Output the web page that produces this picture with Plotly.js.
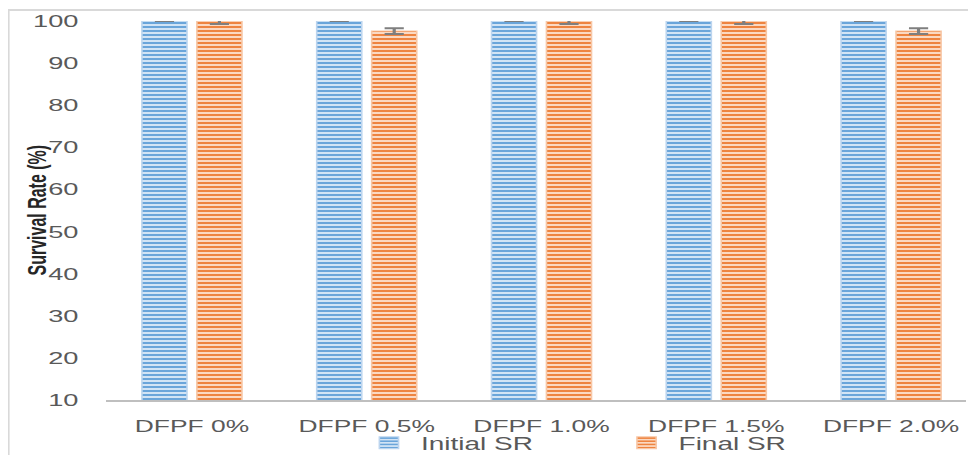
<!DOCTYPE html>
<html>
<head>
<meta charset="utf-8">
<script src="https://cdn.plot.ly/plotly-3.0.1.min.js"></script>
<style>
  html, body { margin:0; padding:0; background:#ffffff; overflow:hidden; }
  #wrap { position:absolute; left:0; top:0; width:605px; height:455px; transform:scaleX(1.6); transform-origin:0 0; }
  #chart { position:absolute; left:0; top:0; width:605px; height:455px; }
  #frame { position:absolute; left:5px; top:9px; width:640px; height:480px; border-top:2px solid #d9d9d9; border-left:1.6px solid #d9d9d9; pointer-events:none; }
</style>
</head>
<body>
<div id="wrap">
  <div id="chart"></div>
  <div id="frame"></div>
</div>
<script>
const categories = ['DFPF 0%', 'DFPF 0.5%', 'DFPF 1.0%', 'DFPF 1.5%', 'DFPF 2.0%'];
const initialSR = [100, 100, 100, 100, 100];
const initialErr = [0, 0, 0, 0, 0];
const finalSR = [100, 97.6, 100, 100, 97.6];
const finalErr = [0.7, 0.7, 0.7, 0.7, 0.7];
const yTicks = [10, 20, 30, 40, 50, 60, 70, 80, 90, 100];

const yTickFont = { family: 'Liberation Sans, Arial, sans-serif', size: 17, color: '#595959' };
const xTickFont = { family: 'Liberation Sans, Arial, sans-serif', size: 16.5, color: '#595959' };

const traces = [
  {
    type: 'bar', name: 'Initial SR', x: categories, y: initialSR,
    error_y: { type: 'data', array: initialErr, visible: true, color: '#7f7f7f', thickness: 2, width: 6 },
    marker: {
      color: '#c5dcf1',
      line: { color: '#bcd5ef', width: 1 },
      pattern: { shape: '-', fgcolor: '#6aa5da', bgcolor: '#d2e4f5', size: 4, solidity: 0.5 }
    }
  },
  {
    type: 'bar', name: 'Final SR', x: categories, y: finalSR,
    error_y: { type: 'data', array: finalErr, visible: true, color: '#7f7f7f', thickness: 2, width: 6 },
    marker: {
      color: '#f9cdb0',
      line: { color: '#f7c7a6', width: 1 },
      pattern: { shape: '-', fgcolor: '#ee8440', bgcolor: '#fbd9c2', size: 4, solidity: 0.5 }
    }
  }
];

const layout = {
  width: 605, height: 455,
  margin: { l: 66, r: 1, t: 21, b: 55, autoexpand: false },
  paper_bgcolor: 'rgba(0,0,0,0)', plot_bgcolor: 'rgba(0,0,0,0)',
  barmode: 'group', bargap: 0.371, bargroupgap: 0.18,
  showlegend: true,
  legend: {
    orientation: 'h', x: 0.292, y: 0.066, xref: 'paper', yref: 'container', xanchor: 'left', yanchor: 'top',
    font: { family: 'Liberation Sans, Arial, sans-serif', size: 17.5, color: '#595959' },
    entrywidth: 116, bgcolor: 'rgba(0,0,0,0)'
  },
  xaxis: {
    type: 'category', range: [-0.494, 4.431],
    showline: true, linecolor: '#bfbfbf', linewidth: 2,
    showgrid: false, zeroline: false, ticks: '',
    tickfont: xTickFont, ticklabelstandoff: 10, fixedrange: true
  },
  yaxis: {
    range: [10, 100], tickmode: 'array', tickvals: yTicks, ticktext: yTicks.map(String),
    showline: false, showgrid: false, zeroline: false, ticks: '',
    tickfont: yTickFont, ticklabelstandoff: 16, fixedrange: true
  },
  annotations: [{
    text: 'Survival Rate (%)', textangle: -90, showarrow: false,
    xref: 'paper', yref: 'paper', x: -0.0799, y: 0.5, xanchor: 'center', yanchor: 'middle',
    font: { family: 'Liberation Sans Narrow, Liberation Sans, Arial Narrow, sans-serif', size: 16, color: '#262626', weight: 'bold' }
  }]
};

Plotly.newPlot('chart', traces, layout, { displayModeBar: false, staticPlot: true });
</script>
</body>
</html>
